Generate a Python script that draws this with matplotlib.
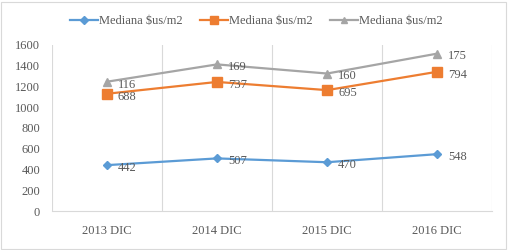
import numpy as np
import matplotlib.pyplot as plt
from matplotlib.patches import Rectangle

plt.rcParams['font.family'] = ['Liberation Serif', 'DejaVu Serif']

categories = ["2013 DIC", "2014 DIC", "2015 DIC", "2016 DIC"]
series_names = ["Mediana $us/m2", "Mediana $us/m2", "Mediana $us/m2"]
blue_vals = [442, 507, 470, 548]
orange_vals = [688, 737, 695, 794]
gray_vals = [116, 169, 160, 175]

colors = ["#5B9BD5", "#ED7D31", "#A5A5A5"]
markers = ["D", "s", "^"]
msizes = [4.5, 6.5, 6.0]
text_col = "#595959"

# stacked line chart: each line sits on top of the previous ones
stack = np.cumsum([blue_vals, orange_vals, gray_vals], axis=0)
raw = [blue_vals, orange_vals, gray_vals]

fig = plt.figure(figsize=(5.08, 2.5), dpi=100)
fig.patches.append(Rectangle((0.002, 0.004), 0.994, 0.99, transform=fig.transFigure,
                             fill=False, edgecolor="#D9D9D9", linewidth=0.8))
ax = fig.add_axes([0.102, 0.156, 0.867, 0.664])

x = np.arange(len(categories))
for i in range(3):
    ax.plot(x, stack[i], color=colors[i], marker=markers[i], markersize=msizes[i],
            linewidth=1.6, label=series_names[i].replace("$", r"\$"))
    for xi, yi, v in zip(x, stack[i], raw[i]):
        ax.annotate(str(v), (xi, yi), xytext=(8, -2), textcoords="offset points",
                    ha="left", va="center", fontsize=9, color=text_col)

ax.set_xlim(-0.5, 3.5)
ax.set_ylim(0, 1600)
ax.set_yticks(range(0, 1601, 200))
ax.set_xticks(x)
ax.set_xticklabels(categories)
for b in [-0.5, 0.5, 1.5, 2.5, 3.5]:
    ax.axvline(b, color="#D9D9D9", linewidth=0.8, zorder=0)
for s in ["top", "right", "left"]:
    ax.spines[s].set_visible(False)
ax.spines["bottom"].set_color("#D9D9D9")
ax.tick_params(axis="both", length=0, labelsize=9, labelcolor=text_col)
ax.tick_params(axis="x", pad=10)
ax.tick_params(axis="y", pad=8.5)

fig.legend(loc="upper center", bbox_to_anchor=(0.505, 0.985), ncol=3, frameon=False,
           fontsize=9, labelcolor=text_col, handlelength=2.2, columnspacing=1.4,
           handletextpad=0.1, markerscale=0.8)

fig.savefig("out.png", dpi=100)
